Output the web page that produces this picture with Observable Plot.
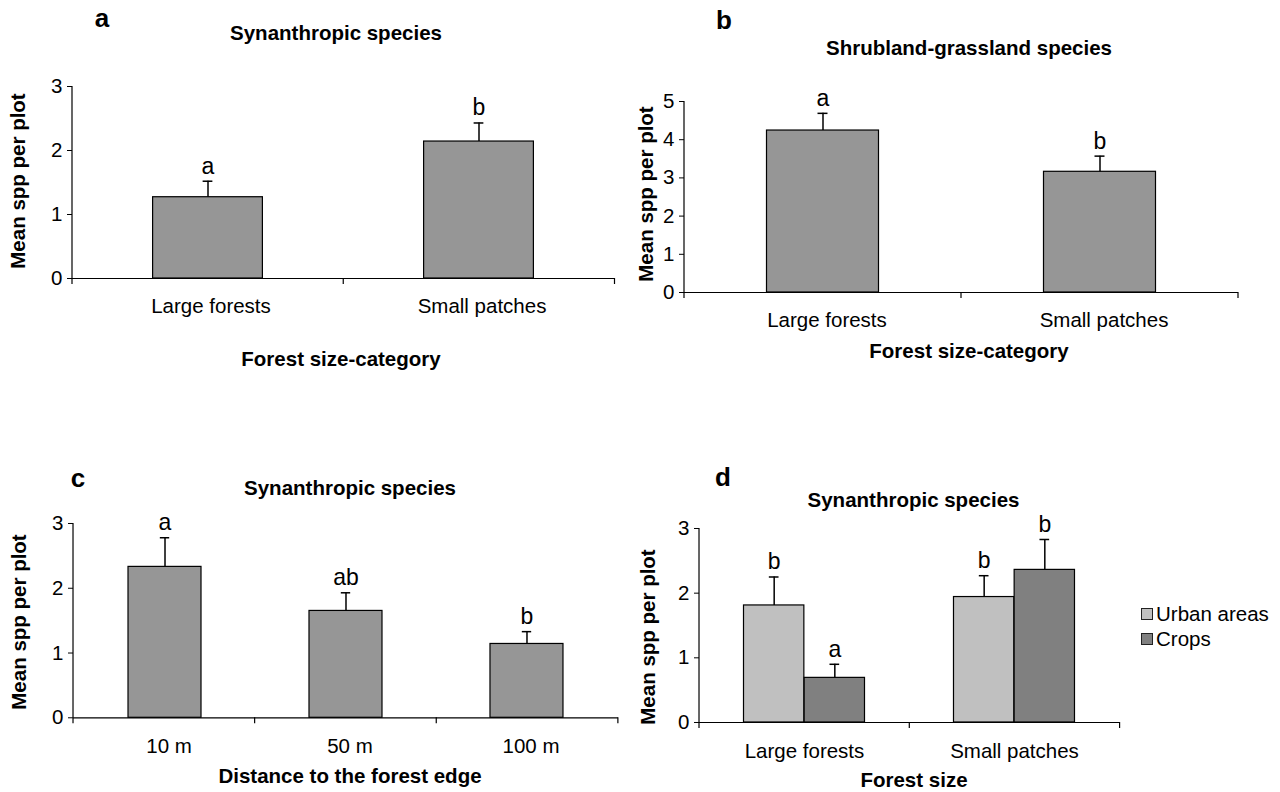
<!DOCTYPE html>
<html>
<head>
<meta charset="utf-8">
<script src="https://cdn.jsdelivr.net/npm/d3@7"></script>
<script src="https://cdn.jsdelivr.net/npm/@observablehq/plot@0.6"></script>
<style>
  html, body { margin: 0; padding: 0; background: #fff; }
  body { position: relative; width: 1280px; height: 792px; overflow: hidden; }
</style>
</head>
<body>
<script>
// ---------- data ----------
const sizeCategories = ["Large forests", "Small patches"];
const distances = ["10 m", "50 m", "100 m"];

const synMeans = [1.27, 2.14];
const synErrors = [0.25, 0.29];
const synLetters = ["a", "b"];

const shrubMeans = [4.24, 3.16];
const shrubErrors = [0.45, 0.41];
const shrubLetters = ["a", "b"];

const distMeans = [2.33, 1.65, 1.14];
const distErrors = [0.45, 0.28, 0.19];
const distLetters = ["a", "ab", "b"];

const landscapes = ["Urban areas", "Crops"];
const urbanMeans = [1.81, 1.94];
const urbanErrors = [0.44, 0.33];
const urbanLetters = ["b", "b"];
const cropMeans = [0.69, 2.36];
const cropErrors = [0.21, 0.47];
const cropLetters = ["a", "b"];

const yTicksA = [0, 1, 2, 3];
const yTicksB = [0, 1, 2, 3, 4, 5];

// ---------- styling ----------
const FONT = '"Liberation Sans", Arial, Helvetica, sans-serif';
const BAR_GRAY = "#969696";
const URBAN_GRAY = "#c0c0c0";
const CROP_GRAY = "#808080";

function addText(txt, cx, cy, {size = 20.5, weight = "bold", rotate = false} = {}) {
  const el = document.createElement("div");
  el.textContent = txt;
  Object.assign(el.style, {
    position: "absolute", left: cx + "px", top: cy + "px",
    font: `${weight} ${size}px ${FONT}`, lineHeight: "1", whiteSpace: "nowrap",
    color: "#000",
    transform: `translate(-50%,-50%)${rotate ? " rotate(-90deg)" : ""}`
  });
  document.body.appendChild(el);
}

function drawPanel({cats, groups, frame, yDomain, yTicks, groupInset, tickPadX, labelDx = 0}) {
  const pad = {left: 56, right: 12, top: 50, bottom: 52};
  const width = frame.right - frame.left + pad.left + pad.right;
  const height = frame.bottom - frame.top + pad.top + pad.bottom;
  const n = cats.length;
  const bw = (frame.right - frame.left) / n;
  const k = groups.length;
  const sw = (bw - 2 * groupInset) / k;
  const marks = [];

  groups.forEach((g, j) => {
    const rows = cats.map((c, i) => ({
      cat: c, mean: g.means[i], top: g.means[i] + g.errors[i], letter: g.letters[i]
    }));
    const l = groupInset + j * sw;
    const r = bw - (groupInset + (j + 1) * sw);
    const dx = groupInset + (j + 0.5) * sw - bw / 2;
    marks.push(Plot.barY(rows, {x: "cat", y: "mean", fill: g.fill, stroke: "black", strokeWidth: 1.2, insetLeft: l, insetRight: r}));
    marks.push(Plot.ruleX(rows, {x: "cat", y1: "mean", y2: "top", dx, stroke: "black", strokeWidth: 1.5}));
    marks.push(Plot.tickY(rows, {x: "cat", y: "top", insetLeft: l + sw / 2 - 5, insetRight: r + sw / 2 - 5, stroke: "black", strokeWidth: 1.5}));
    marks.push(Plot.text(rows, {x: "cat", y: "top", text: "letter", dx, dy: -15, fontSize: 23, fill: "black", fontFamily: FONT}));
  });

  marks.push(Plot.axisY({ticks: yTicks, tickSize: 5, tickPadding: 5, label: null, tickFormat: d => String(d)}));
  marks.push(Plot.axisX({tickSize: 0, tickPadding: tickPadX, label: null, dx: labelDx}));
  marks.push(Plot.ruleY([0], {stroke: "black", strokeWidth: 1.2}));
  // Excel-style left axis line and category boundary ticks
  marks.push((index, scales, values, dims) => {
    const g = d3.create("svg:g").attr("stroke", "black").attr("stroke-width", 1.2);
    const x0 = dims.marginLeft, x1 = dims.width - dims.marginRight;
    const y0 = dims.marginTop, y1 = dims.height - dims.marginBottom;
    g.append("line").attr("x1", x0).attr("x2", x0).attr("y1", y0).attr("y2", y1);
    for (let i = 0; i <= n; i++) {
      const x = x0 + (x1 - x0) * i / n;
      g.append("line").attr("x1", x).attr("x2", x).attr("y1", y1).attr("y2", y1 + 6);
    }
    return g.node();
  });

  const svg = Plot.plot({
    width, height,
    marginLeft: pad.left, marginRight: pad.right, marginTop: pad.top, marginBottom: pad.bottom,
    x: {domain: cats, padding: 0, label: null},
    y: {domain: yDomain, label: null},
    style: {background: "transparent", color: "black", fontFamily: FONT, fontSize: "20.5px", overflow: "visible"},
    marks
  });
  const holder = document.createElement("div");
  Object.assign(holder.style, {
    position: "absolute", left: (frame.left - pad.left) + "px", top: (frame.top - pad.top) + "px",
    width: width + "px", height: height + "px"
  });
  svg.style.maxWidth = "none";
  holder.appendChild(svg);
  document.body.appendChild(holder);
}

// ---------- panel a ----------
drawPanel({
  cats: sizeCategories,
  groups: [{means: synMeans, errors: synErrors, letters: synLetters, fill: BAR_GRAY}],
  frame: {left: 71.5, right: 614, top: 86, bottom: 278},
  yDomain: [0, 3], yTicks: yTicksA, groupInset: 80.6, tickPadX: 20, labelDx: 3
});
addText("a", 102, 18, {size: 26});
addText("Synanthropic species", 336, 32.5);
addText("Mean spp per plot", 17.5, 181, {rotate: true});
addText("Forest size-category", 341, 359);

// ---------- panel b ----------
drawPanel({
  cats: sizeCategories,
  groups: [{means: shrubMeans, errors: shrubErrors, letters: shrubLetters, fill: BAR_GRAY}],
  frame: {left: 684, right: 1238, top: 100.5, bottom: 291.5},
  yDomain: [0, 5], yTicks: yTicksB, groupInset: 82.5, tickPadX: 20, labelDx: 4
});
addText("b", 724, 20, {size: 26});
addText("Shrubland-grassland species", 969, 47.5);
addText("Mean spp per plot", 646, 194, {rotate: true});
addText("Forest size-category", 969, 351);

// ---------- panel c ----------
drawPanel({
  cats: distances,
  groups: [{means: distMeans, errors: distErrors, letters: distLetters, fill: BAR_GRAY}],
  frame: {left: 72.7, right: 617.6, top: 522.7, bottom: 717},
  yDomain: [0, 3], yTicks: yTicksA, groupInset: 54, tickPadX: 21, labelDx: 4
});
addText("c", 78, 478, {size: 26});
addText("Synanthropic species", 350, 487.5);
addText("Mean spp per plot", 19, 622, {rotate: true});
addText("Distance to the forest edge", 350, 776);

// ---------- panel d ----------
drawPanel({
  cats: sizeCategories,
  groups: [
    {means: urbanMeans, errors: urbanErrors, letters: urbanLetters, fill: URBAN_GRAY},
    {means: cropMeans, errors: cropErrors, letters: cropLetters, fill: CROP_GRAY}
  ],
  frame: {left: 699, right: 1119.6, top: 527.7, bottom: 721.7},
  yDomain: [0, 3], yTicks: yTicksA, groupInset: 44.5, tickPadX: 21, labelDx: 0
});
addText("d", 723, 477, {size: 26});
addText("Synanthropic species", 913.5, 500);
addText("Mean spp per plot", 648, 637, {rotate: true});
addText("Forest size", 914, 780);

// legend for panel d
const legendColors = [URBAN_GRAY, CROP_GRAY];
landscapes.forEach((name, i) => {
  const y = 614 + i * 24.5;
  const sw = document.createElement("div");
  Object.assign(sw.style, {
    position: "absolute", left: "1141px", top: (y - 6) + "px", width: "10px", height: "10px",
    background: legendColors[i], border: "1px solid #222"
  });
  document.body.appendChild(sw);
  const t = document.createElement("div");
  t.textContent = name;
  Object.assign(t.style, {
    position: "absolute", left: "1156px", top: y + "px", transform: "translateY(-50%)",
    font: `20.5px ${FONT}`, lineHeight: "1", whiteSpace: "nowrap", color: "#000"
  });
  document.body.appendChild(t);
});
</script>
</body>
</html>
